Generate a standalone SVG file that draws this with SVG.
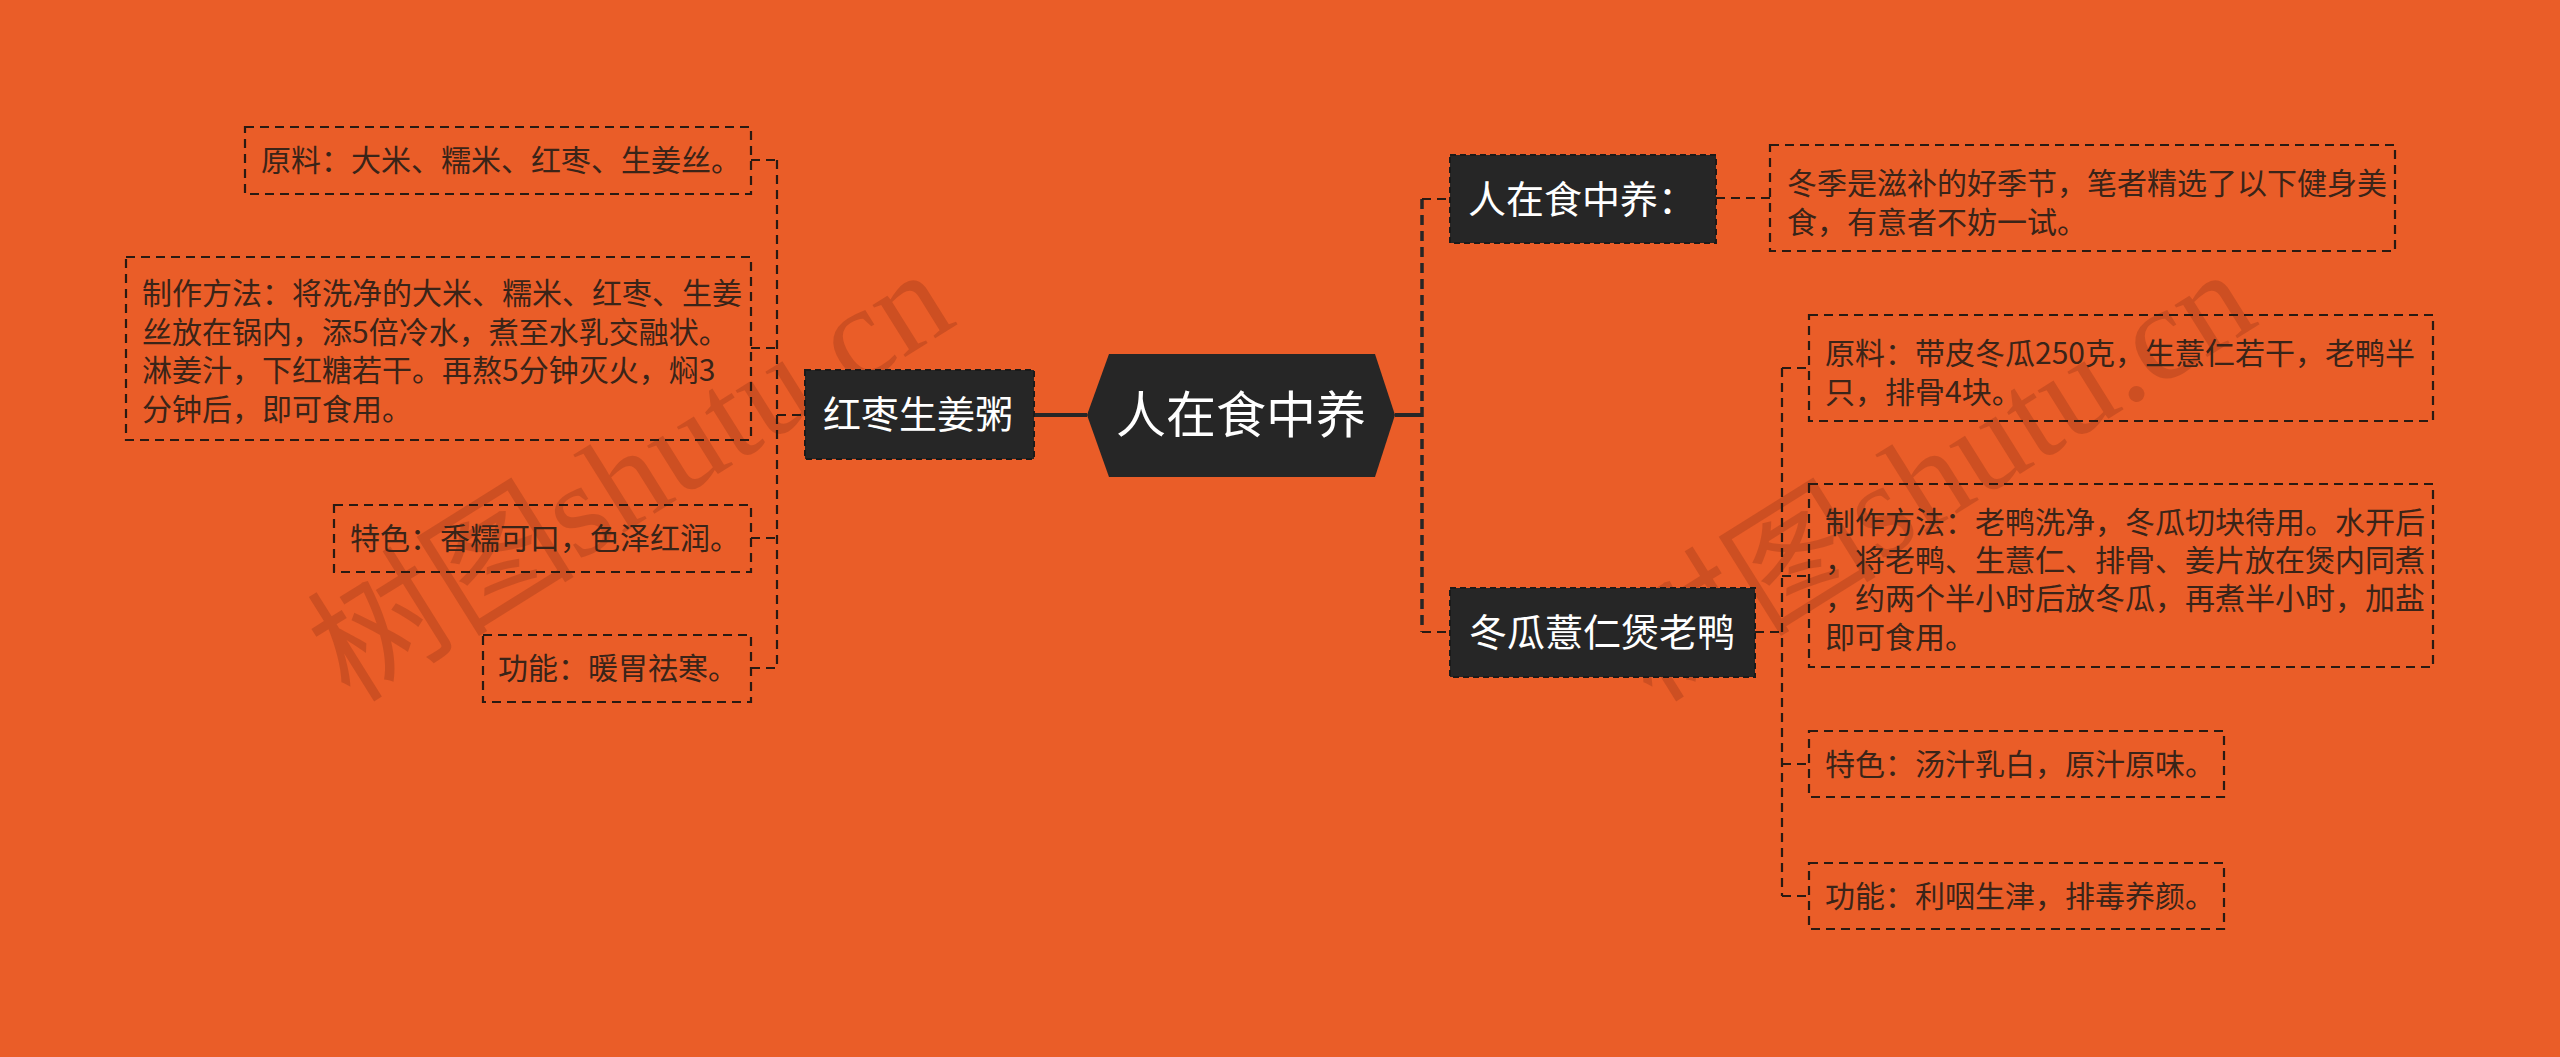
<svg xmlns="http://www.w3.org/2000/svg" width="2560" height="1057" viewBox="0 0 2560 1057">
<style>
.bg{fill:#EA5D28}
.wm{font-family:"Liberation Serif","Noto Sans CJK SC",serif;font-size:134px;fill:#5a1a08;fill-opacity:0.2}
.hex{fill:#262626}
.node{fill:#262626;stroke:#1a1a1a;stroke-width:2;stroke-dasharray:6 4}
.ntext{font-family:"Noto Sans CJK SC","Noto Sans",sans-serif;font-size:38px;fill:#ffffff}
.ctext{font-family:"Noto Sans CJK SC","Noto Sans",sans-serif;font-size:50px;fill:#ffffff}
.box{fill:none;stroke:#2a1a12;stroke-width:2.2;stroke-dasharray:9 6}
.btext{font-family:"Noto Sans CJK SC","Noto Sans",sans-serif;font-size:30px;fill:#3a2418}
.dl{fill:none;stroke:#2a1a12;stroke-width:2.2;stroke-dasharray:9 6}
.dlt{fill:none;stroke:#262626;stroke-width:3.5;stroke-dasharray:10 6}
.sl{fill:none;stroke:#262626;stroke-width:4}
</style>
<rect class="bg" x="0" y="0" width="2560" height="1057"/>

<g id="watermarks">
<text class="wm" transform="translate(350,704) rotate(-32)">树图shutu.cn</text>
<text class="wm" transform="translate(1652,704) rotate(-32)">树图shutu.cn</text>
</g>

<g id="connectors">
<line class="sl" x1="1034" y1="415" x2="1087" y2="415"/>
<line class="sl" x1="1395" y1="415" x2="1422" y2="415"/>
<line class="dlt" x1="1422" y1="199" x2="1422" y2="632"/>
<line class="dl" x1="1422" y1="199" x2="1450" y2="199"/>
<line class="dl" x1="1422" y1="632" x2="1450" y2="632"/>
<line class="dl" x1="1716" y1="198" x2="1770" y2="198"/>
<line class="dl" x1="1755" y1="632" x2="1782" y2="632"/>
<line class="dl" x1="1782" y1="368" x2="1782" y2="896"/>
<line class="dl" x1="1782" y1="368" x2="1809" y2="368"/>
<line class="dl" x1="1782" y1="576" x2="1809" y2="576"/>
<line class="dl" x1="1782" y1="764" x2="1809" y2="764"/>
<line class="dl" x1="1782" y1="896" x2="1809" y2="896"/>
<line class="dl" x1="777" y1="160" x2="777" y2="668"/>
<line class="dl" x1="777" y1="415" x2="805" y2="415"/>
<line class="dl" x1="751" y1="160" x2="777" y2="160"/>
<line class="dl" x1="751" y1="348" x2="777" y2="348"/>
<line class="dl" x1="751" y1="538" x2="777" y2="538"/>
<line class="dl" x1="751" y1="668" x2="777" y2="668"/>
</g>

<g id="root">
<polygon class="hex" points="1087,415 1109,354 1375,354 1395,415 1375,477 1109,477"/>
<text class="ctext" x="1241" y="433" text-anchor="middle">人在食中养</text>
</g>

<g id="n-hongzao">
<rect class="node" x="805" y="370" width="229" height="89"/>
<text class="ntext" x="823" y="428">红枣生姜粥</text>
</g>

<g id="n-hz-yuanliao">
<rect class="box" x="245" y="127" width="506" height="67"/>
<text class="btext" x="261" y="171">原料：大米、糯米、红枣、生姜丝。</text>
</g>

<g id="n-hz-zhizuo">
<rect class="box" x="126" y="257" width="625" height="183"/>
<text class="btext" x="142" y="304">制作方法：将洗净的大米、糯米、红枣、生姜</text>
<text class="btext" x="142" y="343">丝放在锅内，添5倍冷水，煮至水乳交融状。</text>
<text class="btext" x="142" y="381">淋姜汁，下红糖若干。再熬5分钟灭火，焖3</text>
<text class="btext" x="142" y="420">分钟后，即可食用。</text>
</g>

<g id="n-hz-tese">
<rect class="box" x="334" y="505" width="417" height="67"/>
<text class="btext" x="350" y="549">特色：香糯可口，色泽红润。</text>
</g>

<g id="n-hz-gongneng">
<rect class="box" x="483" y="635" width="268" height="67"/>
<text class="btext" x="498" y="679">功能：暖胃祛寒。</text>
</g>

<g id="n-renzai">
<rect class="node" x="1450" y="155" width="266" height="88"/>
<text class="ntext" x="1468" y="213">人在食中养：</text>
</g>

<g id="n-renzai-desc">
<rect class="box" x="1770" y="145" width="625" height="106"/>
<text class="btext" x="1787" y="194">冬季是滋补的好季节，笔者精选了以下健身美</text>
<text class="btext" x="1787" y="233">食，有意者不妨一试。</text>
</g>

<g id="n-donggua">
<rect class="node" x="1450" y="588" width="305" height="89"/>
<text class="ntext" x="1469" y="646">冬瓜薏仁煲老鸭</text>
</g>

<g id="n-dg-yuanliao">
<rect class="box" x="1809" y="315" width="624" height="106"/>
<text class="btext" x="1825" y="364">原料：带皮冬瓜250克，生薏仁若干，老鸭半</text>
<text class="btext" x="1825" y="403">只，排骨4块。</text>
</g>

<g id="n-dg-zhizuo">
<rect class="box" x="1809" y="484" width="624" height="183"/>
<text class="btext" x="1825" y="533">制作方法：老鸭洗净，冬瓜切块待用。水开后</text>
<text class="btext" x="1825" y="571">，将老鸭、生薏仁、排骨、姜片放在煲内同煮</text>
<text class="btext" x="1825" y="609">，约两个半小时后放冬瓜，再煮半小时，加盐</text>
<text class="btext" x="1825" y="648">即可食用。</text>
</g>

<g id="n-dg-tese">
<rect class="box" x="1809" y="731" width="415" height="66"/>
<text class="btext" x="1825" y="775">特色：汤汁乳白，原汁原味。</text>
</g>

<g id="n-dg-gongneng">
<rect class="box" x="1809" y="863" width="415" height="66"/>
<text class="btext" x="1825" y="907">功能：利咽生津，排毒养颜。</text>
</g>
</svg>
